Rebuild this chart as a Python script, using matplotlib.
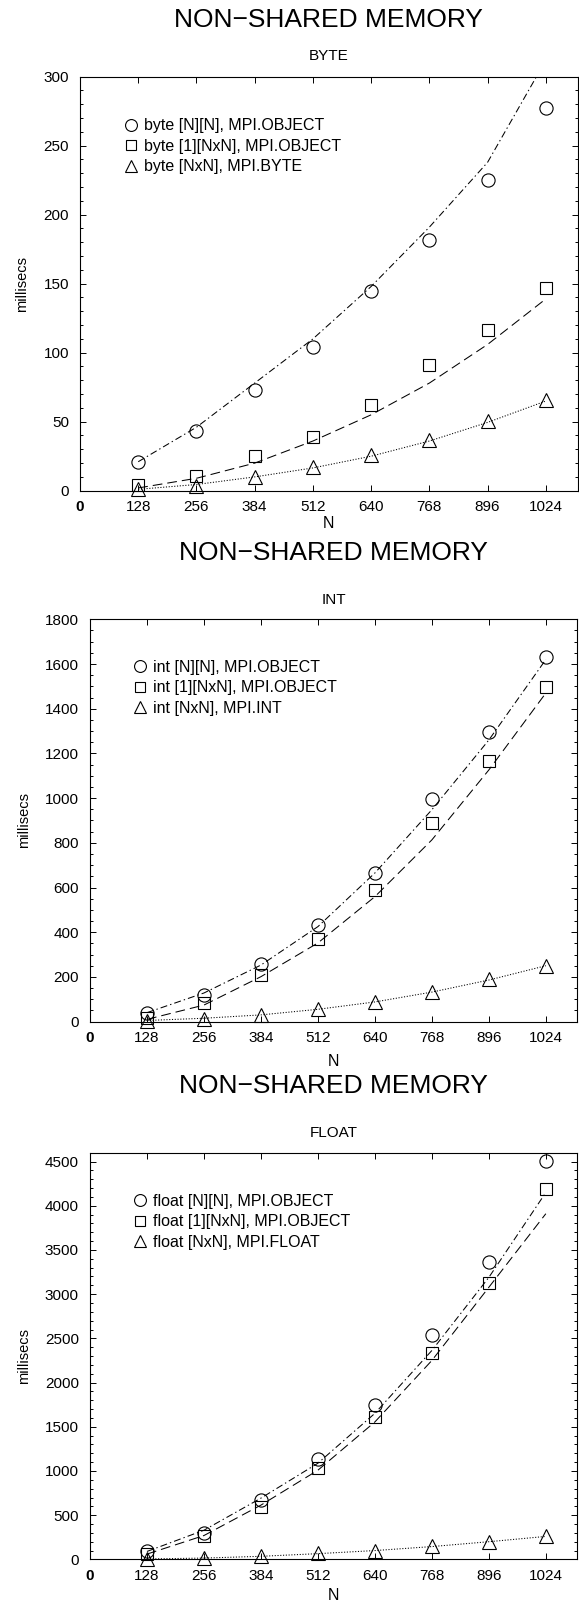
import matplotlib
matplotlib.use("Agg")
import matplotlib.pyplot as plt
from matplotlib.lines import Line2D

plt.rcParams['font.family'] = ['Liberation Sans', 'DejaVu Sans']
plt.rcParams['lines.scale_dashes'] = False

N = [128, 256, 384, 512, 640, 768, 896, 1024]
xticks = [0, 128, 256, 384, 512, 640, 768, 896, 1024]

# BYTE
byte_obj2d = [21, 43, 73, 104, 145, 182, 225, 277]
byte_obj1d = [4, 10.5, 25, 38.7, 62, 91, 116.5, 146.6]
byte_native = [1.5, 3.5, 10, 17.4, 26, 37, 50.5, 66]
byte_obj2d_fit = [21, 46, 78, 110, 148, 191, 238, 312]
byte_obj1d_fit = [2, 9, 20, 36, 55, 78, 106, 139]
byte_native_fit = [1, 4.5, 10, 16.5, 25, 36, 49.5, 65]

# INT
int_obj2d = [37, 119, 258, 432, 666, 995, 1297, 1630]
int_obj1d = [16, 82, 208, 370, 589, 887, 1167, 1496]
int_native = [3, 10, 30, 58, 86, 134, 189, 250]
int_obj2d_fit = [40, 128, 253, 425, 665, 948, 1260, 1620]
int_obj1d_fit = [10, 74, 201, 352, 559, 813, 1126, 1470]
int_native_fit = [5, 15, 30, 55, 88, 132, 186, 250]

# FLOAT
float_obj2d = [90, 300, 670, 1133, 1743, 2533, 3360, 4508]
float_obj1d = [60, 260, 595, 1035, 1611, 2333, 3127, 4188]
float_native = [5, 15, 40, 70, 100, 150, 200, 260]
float_obj2d_fit = [90, 330, 693, 1088, 1652, 2363, 3190, 4150]
float_obj1d_fit = [60, 270, 614, 1009, 1555, 2250, 3078, 3910]
float_native_fit = [5, 15, 35, 65, 100, 145, 200, 260]

panels = [
    dict(sub="BYTE", rect=(80, 76.7, 577.7, 490.7), ylim=(0, 300), major=50, minor=10,
         series=[(byte_obj2d, byte_obj2d_fit, "byte [N][N], MPI.OBJECT"),
                 (byte_obj1d, byte_obj1d_fit, "byte [1][NxN], MPI.OBJECT"),
                 (byte_native, byte_native_fit, "byte [NxN], MPI.BYTE")],
         title_y=20, sub_y=56, xlab_y=523),
    dict(sub="INT", rect=(90, 619.3, 577, 1021.6), ylim=(0, 1800), major=200, minor=50,
         series=[(int_obj2d, int_obj2d_fit, "int [N][N], MPI.OBJECT"),
                 (int_obj1d, int_obj1d_fit, "int [1][NxN], MPI.OBJECT"),
                 (int_native, int_native_fit, "int [NxN], MPI.INT")],
         title_y=553, sub_y=600, xlab_y=1061),
    dict(sub="FLOAT", rect=(90, 1152.7, 577, 1559.4), ylim=(0, 4600), major=500, minor=100,
         series=[(float_obj2d, float_obj2d_fit, "float [N][N], MPI.OBJECT"),
                 (float_obj1d, float_obj1d_fit, "float [1][NxN], MPI.OBJECT"),
                 (float_native, float_native_fit, "float [NxN], MPI.FLOAT")],
         title_y=1086, sub_y=1133, xlab_y=1595),
]

W, H = 579, 1604
fig = plt.figure(figsize=(W / 100, H / 100), dpi=100)

markers = ['o', 's', '^']
msizes = [9.5, 8, 10]
styles = [(0, (5, 2.2, 1, 2.2)), (0, (7, 3.6)), (0, (0.8, 1.2))]

for p in panels:
    l, t, r, b = p["rect"]
    ax = fig.add_axes([l / W, 1 - b / H, (r - l) / W, (b - t) / H])
    for (vals, fit, lab), m, ms, ls in zip(p["series"], markers, msizes, styles):
        ax.plot(N, fit, color='black', lw=0.75, linestyle=ls)
        ax.plot(N, vals, linestyle='none', marker=m, ms=ms, mfc='none', mec='black', mew=0.8,
                clip_on=False)
    ax.set_xlim(0, 1094)
    ax.set_ylim(*p["ylim"])
    ax.set_xticks(xticks)
    ax.set_xticklabels([str(v) for v in xticks])
    ax.get_xticklabels()[0].set_fontweight('bold')
    ax.set_yticks(range(p["ylim"][0], p["ylim"][1] + 1, p["major"]))
    ax.set_yticks(range(p["ylim"][0], p["ylim"][1] + 1, p["minor"]), minor=True)
    ax.tick_params(which='both', direction='in', top=True, right=True, labelsize=11, width=0.7)
    ax.tick_params(which='major', length=4.3)
    ax.tick_params(axis='x', which='minor', top=False, bottom=False)
    ax.tick_params(which='minor', length=2.2)
    ax.tick_params(axis='x', pad=7)
    ax.tick_params(axis='y', pad=8)
    for s in ax.spines.values():
        s.set_linewidth(0.8)
    ax.set_ylabel("millisecs", fontsize=10.5, labelpad=10)
    handles = [Line2D([], [], linestyle='none', marker=m, ms=ms * 0.9, mfc='none', mec='black', mew=0.8)
               for m, ms in zip(markers, msizes)]
    ax.legend(handles, [s[2] for s in p["series"]], loc='upper left',
              bbox_to_anchor=(0.07, 0.915), frameon=False, fontsize=11.5,
              handletextpad=0.2, labelspacing=0.35, handlelength=1.2, borderaxespad=0)
    cx = (l + r) / 2 / W
    fig.text(cx, 1 - p["title_y"] / H, "NON\u2212SHARED MEMORY", ha='center', va='center', fontsize=19)
    fig.text(cx, 1 - p["sub_y"] / H, p["sub"], ha='center', va='center', fontsize=11)
    fig.text(cx, 1 - p["xlab_y"] / H, "N", ha='center', va='center', fontsize=11.5)

fig.savefig("out.png", dpi=100)
